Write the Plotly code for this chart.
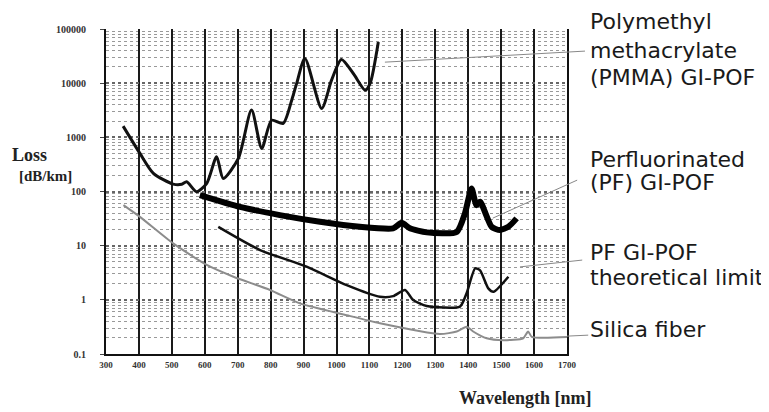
"""
Attenuation spectra of plastic optical fibres vs. silica fibre.
"""

import plotly.graph_objects as go

# Wavelength (nm) and loss (dB/km)
pmma_wl = [352, 403, 444, 504, 530, 545, 575, 606, 636, 656, 702, 742, 773, 803,
           838, 864, 879, 904, 955, 985, 1015, 1051, 1087, 1102, 1127]
pmma_loss = [1610, 505, 216, 137, 136, 151, 99, 141, 437, 174, 408, 3180, 624, 2070,
             1810, 4850, 9900, 28600, 3410, 11350, 27400, 15100, 7430, 9900, 57800]

pf_wl = [585, 707, 828, 950, 1071, 1172, 1198, 1223, 1274, 1365, 1390, 1410, 1425,
         1436, 1471, 1496, 1522, 1547]
pf_loss = [86, 52, 36.7, 27.6, 22.3, 20.9, 26.5, 20.9, 17.6, 17.9, 39.4, 114, 56,
           64.6, 22.3, 19.4, 22.3, 31.9]

limit_wl = [641, 768, 909, 1031, 1132, 1172, 1208, 1233, 1274, 1375, 1395, 1421, 1436,
            1461, 1477, 1522]
limit_loss = [22.3, 8.3, 4.1, 1.87, 1.14, 1.17, 1.52, 0.99, 0.77, 0.75, 1.32, 3.8, 3.5,
              1.63, 1.41, 2.67]

silica_wl = [353, 403, 504, 606, 687, 798, 889, 1031, 1132, 1314, 1365, 1395, 1415,
             1456, 1507, 1567, 1582, 1593, 1700]
silica_loss = [56, 34, 11, 4.4, 2.67, 1.52, 0.86, 0.52, 0.37, 0.234, 0.26, 0.32, 0.26,
               0.195, 0.18, 0.195, 0.26, 0.208, 0.206]

x_ticks = list(range(300, 1800, 100))
y_ticks = [0.1, 1, 10, 100, 1000, 10000, 100000]
y_tick_labels = ["0.1", "1", "10", "100", "1000", "10000", "100000"]

fig = go.Figure()

fig.add_trace(go.Scatter(x=silica_wl, y=silica_loss, mode="lines",
                         line=dict(color="#8c8c8c", width=2, shape="spline", smoothing=0.6)))
fig.add_trace(go.Scatter(x=limit_wl, y=limit_loss, mode="lines",
                         line=dict(color="#111111", width=2.5, shape="spline", smoothing=0.6)))
fig.add_trace(go.Scatter(x=pf_wl, y=pf_loss, mode="lines",
                         line=dict(color="#000000", width=6, shape="spline", smoothing=0.6)))
fig.add_trace(go.Scatter(x=pmma_wl, y=pmma_loss, mode="lines",
                         line=dict(color="#111111", width=3, shape="spline", smoothing=0.7)))

# page body has an 8px margin: shift left/top margins, let the right side run off the window
fig.update_layout(
    width=769,
    height=412,
    margin=dict(l=98, r=210, t=21, b=66),
    plot_bgcolor="white",
    paper_bgcolor="white",
    showlegend=False,
    font=dict(family="Liberation Serif", color="#222"),
)

fig.update_xaxes(
    range=[300, 1700],
    tickvals=x_ticks,
    showgrid=True,
    gridcolor="#1a1a1a",
    gridwidth=1.5,
    showline=True,
    linecolor="#111",
    linewidth=2,
    zeroline=False,
    ticks="",
    tickfont=dict(family="Liberation Serif", size=9, color="#333", weight="bold"),
    ticklabelstandoff=1,
)

fig.update_yaxes(
    type="log",
    range=[-1, 5],
    tickvals=y_ticks,
    ticktext=y_tick_labels,
    showgrid=True,
    gridcolor="#666",
    gridwidth=1.5,
    griddash="dot",
    minor=dict(dtick="D1", showgrid=True, gridcolor="#999", gridwidth=1, griddash="dot"),
    showline=True,
    linecolor="#111",
    linewidth=2,
    mirror=True,
    ticks="outside",
    ticklen=4,
    tickcolor="#444",
    tickfont=dict(family="Liberation Serif", size=10, color="#333", weight="bold"),
    ticklabelstandoff=12,
)

# Axis titles
titles = [
    ("<b>Loss</b>", -0.165, 0.612, 18),
    ("<b>[dB/km]</b>", -0.132, 0.548, 15),
    ("<b>Wavelength [nm]</b>", 0.909, -0.135, 18),
]
for text, xpos, ypos, size in titles:
    fig.add_annotation(text=text, xref="paper", yref="paper", x=xpos, y=ypos,
                       xanchor="center", yanchor="middle", showarrow=False,
                       font=dict(family="Liberation Serif", size=size, color="#222"))

# Curve labels on the right
labels = [
    ("Polymethyl", 1.022),
    ("methacrylate", 0.935),
    ("(PMMA) GI-POF", 0.852),
    ("Perfluorinated", 0.597),
    ("(PF) GI-POF", 0.529),
    ("PF GI-POF", 0.311),
    ("theoretical limit", 0.234),
    ("Silica fiber", 0.074),
]
for text, ypos in labels:
    fig.add_annotation(text=text, xref="paper", yref="paper", x=1.046, y=ypos,
                       xanchor="left", yanchor="middle", showarrow=False,
                       font=dict(family="DejaVu Sans", size=22, color="#1a1a1a"))

# Leader lines from labels to curves
leaders = [
    (0.605, 0.898, 1.039, 0.932),
    (0.839, 0.418, 1.022, 0.535),
    (0.898, 0.268, 1.033, 0.289),
    (1.0, 0.055, 1.046, 0.058),
]
for x0, y0, x1, y1 in leaders:
    fig.add_shape(type="line", xref="paper", yref="paper", x0=x0, y0=y0, x1=x1, y1=y1,
                  line=dict(color="#888", width=1))

fig.write_html("out.html")
